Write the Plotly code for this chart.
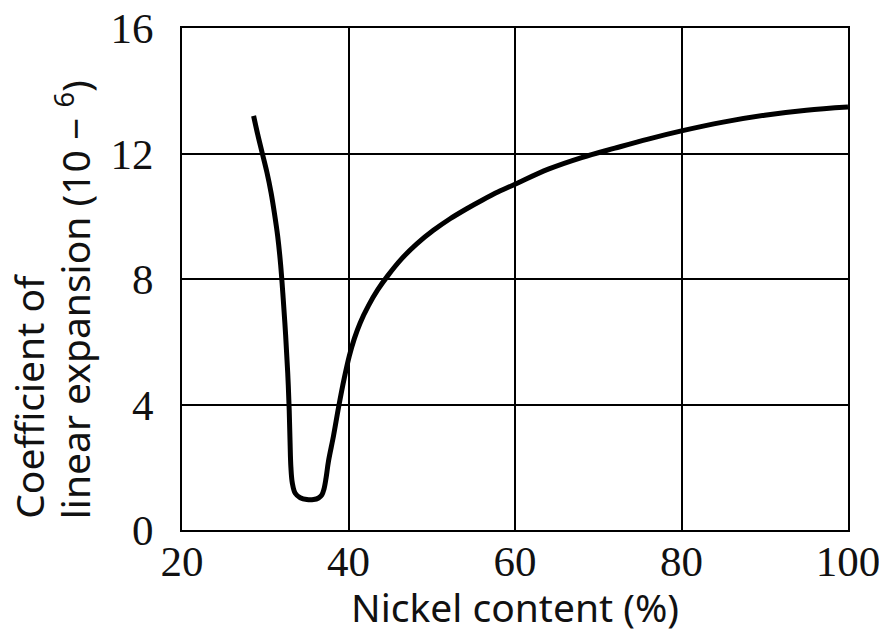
import plotly.graph_objects as go

# Nickel content (%) and coefficient of linear expansion (10^-6)
nickel = [28.6, 29.1, 29.65, 30.2, 30.7, 31.1, 31.5, 31.85, 32.15, 32.45, 32.7, 32.88,
          32.98, 33.08, 33.25, 33.6, 34.2, 35.0, 35.8, 36.4, 36.8, 37.05, 37.3, 37.6,
          38.2, 38.8, 39.5, 40.1, 40.7, 41.4, 42.4, 43.5, 44.7, 46.4, 48.2, 50.2, 52.2,
          54.2, 56.1, 58.0, 60.0, 64.0, 68.0, 72.0, 76.0, 80.0, 85.0, 90.0, 95.0, 100.0]
expansion = [13.2, 12.6, 12.0, 11.4, 10.75, 10.1, 9.35, 8.45, 7.4, 6.2, 5.0, 3.8,
             2.8, 2.0, 1.5, 1.17, 1.03, 0.97, 0.97, 1.02, 1.12, 1.3, 1.65, 2.2,
             3.0, 3.9, 4.85, 5.55, 6.1, 6.6, 7.15, 7.65, 8.1, 8.65, 9.12, 9.55, 9.92,
             10.24, 10.52, 10.78, 11.02, 11.5, 11.87, 12.17, 12.46, 12.72, 13.0, 13.22, 13.38, 13.48]

x_ticks = [20, 40, 60, 80, 100]
y_ticks = [0, 4, 8, 12, 16]

x_title = "Nickel content (%)"
y_title_line1 = "Coefficient of"
y_title_line2 = "linear expansion (10 − <sup>6</sup>)"

fig = go.Figure()
fig.add_trace(go.Scatter(
    x=nickel, y=expansion, mode="lines",
    line=dict(color="black", width=5, shape="spline", smoothing=1.0),
    showlegend=False, hoverinfo="skip",
))

tick_font = dict(family="Liberation Serif", size=43, color="#111111")
title_font = dict(family="Noto Sans", size=39, color="#111111")

fig.update_xaxes(
    range=[20, 100], tickvals=x_ticks, ticktext=[str(v) for v in x_ticks],
    showgrid=True, gridcolor="black", gridwidth=1.5,
    showline=True, linecolor="black", linewidth=2, mirror=True,
    zeroline=False, ticks="", tickfont=tick_font, ticklabelstandoff=-8,
    ticklabeloverflow="allow", automargin=False,
)
fig.update_yaxes(
    range=[0, 16], tickvals=y_ticks, ticktext=[str(v) for v in y_ticks],
    showgrid=True, gridcolor="black", gridwidth=1.5,
    showline=True, linecolor="black", linewidth=2, mirror=True,
    zeroline=False, ticks="", tickfont=tick_font, ticklabelstandoff=18,
    ticklabeloverflow="allow", automargin=False,
)

fig.add_annotation(
    text=x_title, xref="paper", yref="paper",
    x=0.5, y=-0.153, xanchor="center", yanchor="middle",
    showarrow=False, font=title_font,
)
fig.add_annotation(
    text=y_title_line1, xref="paper", yref="paper",
    x=-0.2303, y=0.0175, xanchor="center", yanchor="bottom",
    textangle=-90, showarrow=False, font=title_font,
)
fig.add_annotation(
    text=y_title_line2, xref="paper", yref="paper",
    x=-0.1644, y=0.0175, xanchor="center", yanchor="bottom",
    textangle=-90, showarrow=False, font=title_font,
)

# page body has an 8px margin; size the figure so the plot area lands where the reference has it
fig.update_layout(
    width=879, height=622,
    margin=dict(l=174, r=39, t=20, b=100),
    plot_bgcolor="white", paper_bgcolor="white",
)

fig.write_html("out.html")
